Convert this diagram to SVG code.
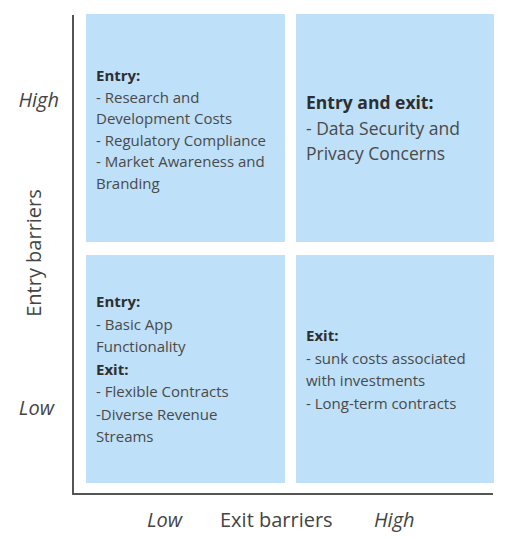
<svg xmlns="http://www.w3.org/2000/svg" width="507" height="539" viewBox="0 0 507 539">
<style>
.box{fill:#bee0f8;}
.t{font-family:"Open Sans","Noto Sans",sans-serif;font-size:15px;fill:#4a4a4a;}
.b{font-weight:bold;fill:#2e2e2e;}
.t16{font-size:17.5px;}
.ax{font-family:"Open Sans","Noto Sans",sans-serif;font-size:20px;fill:#444;}
.i{font-style:italic;}
.axis{stroke:#555;stroke-width:2;fill:none;}
</style>
<rect width="507" height="539" fill="#fff"/>
<g id="q-high-low">
<rect class="box" x="86" y="14" width="199" height="228"/>
<text class="t" x="96" y="81"><tspan class="b">Entry:</tspan><tspan x="96" dy="21.5">- Research and</tspan><tspan x="96" dy="21.5">Development Costs</tspan><tspan x="96" dy="21.5">- Regulatory Compliance</tspan><tspan x="96" dy="21.5">- Market Awareness and</tspan><tspan x="96" dy="21.5">Branding</tspan></text>
</g>
<g id="q-high-high">
<rect class="box" x="296" y="14" width="198" height="228"/>
<text class="t t16" x="306" y="109"><tspan class="b">Entry and exit:</tspan><tspan x="306" dy="25.5">- Data Security and</tspan><tspan x="306" dy="25.5">Privacy Concerns</tspan></text>
</g>
<g id="q-low-low">
<rect class="box" x="86" y="255" width="199" height="228"/>
<text class="t" x="96" y="307"><tspan class="b">Entry:</tspan><tspan x="96" dy="22.5">- Basic App</tspan><tspan x="96" dy="22.5">Functionality</tspan><tspan class="b" x="96" dy="22.5">Exit:</tspan><tspan x="96" dy="22.5">- Flexible Contracts</tspan><tspan x="96" dy="22.5">-Diverse Revenue</tspan><tspan x="96" dy="22.5">Streams</tspan></text>
</g>
<g id="q-low-high">
<rect class="box" x="296" y="255" width="198" height="228"/>
<text class="t" x="306" y="341"><tspan class="b">Exit:</tspan><tspan x="306" dy="22.5">- sunk costs associated</tspan><tspan x="306" dy="22.5">with investments</tspan><tspan x="306" dy="22.5">- Long-term contracts</tspan></text>
</g>
<g id="connectors">
<path class="axis" d="M73 15 V494 H493"/>
</g>
<g id="labels">
<text class="ax i" x="59" y="107" text-anchor="end">High</text>
<text class="ax i" x="54" y="415" text-anchor="end">Low</text>
<text class="ax" transform="translate(41 253) rotate(-90)" text-anchor="middle">Entry barriers</text>
<text class="ax i" x="147" y="527">Low</text>
<text class="ax" x="220" y="527">Exit barriers</text>
<text class="ax i" x="374" y="527">High</text>
</g>
</svg>
